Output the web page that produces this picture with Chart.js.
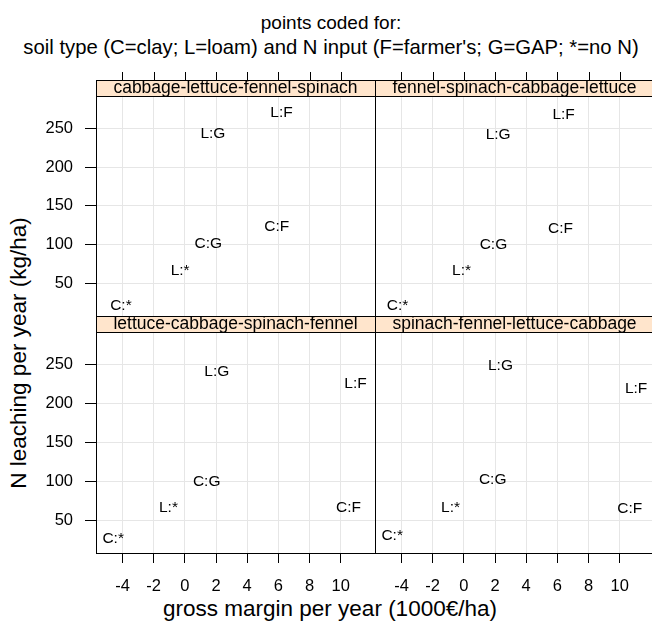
<!DOCTYPE html>
<html>
<head>
<meta charset="utf-8">
<script src="https://cdn.jsdelivr.net/npm/chart.js@4.4.0/dist/chart.umd.min.js"></script>
<style>
  body { margin: 0; background: #fff; }
  #wrap { position: relative; width: 652px; height: 628px; overflow: hidden;
          font-family: "Liberation Sans", Arial, sans-serif; color: #000; }
  #wrap canvas { position: absolute; left: 0; top: 0; }
  .txt { position: absolute; white-space: nowrap; line-height: 1; transform: translate(-50%, -50%); }
</style>
</head>
<body>
<div id="wrap">
  <div class="txt" style="left:331px; top:22px; font-size:19px;">points coded for:</div>
  <div class="txt" style="left:331px; top:47px; font-size:20.3px;">soil type (C=clay; L=loam) and N input (F=farmer's; G=GAP; *=no N)</div>
  <div class="txt" style="left:330px; top:609px; font-size:22.5px;">gross margin per year (1000€/ha)</div>
  <div class="txt" style="left:19px; top:353px; font-size:22.5px; transform: translate(-50%, -50%) rotate(-90deg);">N leaching per year (kg/ha)</div>
</div>
<script>
// labels drawn at each point
const pointLabels = ['L:F', 'L:G', 'C:F', 'C:G', 'L:*', 'C:*'];

// panel titles (crop rotations)
const rotations = ['cabbage-lettuce-fennel-spinach', 'fennel-spinach-cabbage-lettuce',
                   'lettuce-cabbage-spinach-fennel', 'spinach-fennel-lettuce-cabbage'];

// gross margin (1000 EUR/ha) and N leaching (kg/ha) per panel
const margin1 = [6.2, 1.8, 5.9, 1.5, -0.3, -4.1];
const leach1  = [271, 244, 124.5, 103, 67.5, 23.5];
const margin2 = [6.4, 2.2, 6.2, 1.9, -0.15, -4.25];
const leach2  = [269.5, 243.5, 122.5, 101.5, 67.5, 23.5];
const margin3 = [10.95, 2.05, 10.5, 1.4, -1.05, -4.6];
const leach3  = [227, 242.5, 67.5, 101, 67.5, 27.5];
const margin4 = [11.05, 2.35, 10.65, 1.85, -0.85, -4.6];
const leach4  = [221, 250, 67, 104, 67.5, 32];

const xTicks = [-4, -2, 0, 2, 4, 6, 8, 10];
const yTicks = [50, 100, 150, 200, 250];

const margins = [margin1, margin2, margin3, margin4];
const leaching = [leach1, leach2, leach3, leach4];

const xMin = -5.7, xMax = 12.2;
const yMin = 8, yMax = 291.5;

// panel geometry (lattice layout)
const colsX = [[96, 375], [375, 654]];
const rowsY = [{ top: 96, bottom: 316 }, { top: 332, bottom: 553 }];
const stripH = 16;
const FONT = '"Liberation Sans", Arial, sans-serif';

const deco = {
  id: 'panelDeco',
  afterDatasetsDraw(chart, args, opts) {
    const { ctx, chartArea: a, scales: { x, y } } = chart;
    ctx.save();
    // text "points"
    ctx.fillStyle = '#000';
    ctx.font = '15.5px ' + FONT;
    ctx.textAlign = 'center';
    ctx.textBaseline = 'alphabetic';
    chart.data.datasets[0].data.forEach((p, k) => {
      ctx.fillText(pointLabels[k], x.getPixelForValue(p.x), y.getPixelForValue(p.y) + 0.36 * 15.5);
    });
    // panel border
    ctx.strokeStyle = '#000';
    ctx.lineWidth = 1;
    ctx.strokeRect(a.left + 0.5, a.top + 0.5, a.right - a.left, a.bottom - a.top);
    // strip
    const sTop = a.top - stripH;
    ctx.fillStyle = '#ffe5cc';
    ctx.fillRect(a.left, sTop, a.right - a.left, stripH);
    ctx.save();
    ctx.beginPath();
    ctx.rect(a.left, sTop, a.right - a.left, stripH);
    ctx.clip();
    ctx.fillStyle = '#000';
    ctx.font = '17.5px ' + FONT;
    ctx.fillText(opts.title, (a.left + a.right) / 2, a.top - 3);
    ctx.restore();
    ctx.strokeRect(a.left + 0.5, sTop + 0.5, a.right - a.left, stripH);
    // ticks above the top strips
    if (opts.topTicks) {
      ctx.beginPath();
      x.ticks.forEach(t => {
        const px = Math.round(x.getPixelForValue(t.value)) + 0.5;
        ctx.moveTo(px, sTop);
        ctx.lineTo(px, sTop - 8);
      });
      ctx.stroke();
    }
    ctx.restore();
  }
};

const wrap = document.getElementById('wrap');

function panelChart(i) {
  const col = i % 2, row = Math.floor(i / 2);
  const L = colsX[col][0], R = colsX[col][1];
  const T = rowsY[row].top, B = rowsY[row].bottom;
  const showY = col === 0, showX = row === 1;
  const yW = showY ? 60 : 0;
  const xH = showX ? 50 : 0;
  const canvas = document.createElement('canvas');
  canvas.width = 660;
  canvas.height = 628;
  wrap.appendChild(canvas);
  return new Chart(canvas, {
    type: 'scatter',
    data: {
      datasets: [{
        data: margins[i].map((v, k) => ({ x: v, y: leaching[i][k] })),
        pointRadius: 0,
        pointHoverRadius: 0
      }]
    },
    options: {
      responsive: false,
      animation: false,
      devicePixelRatio: 1,
      events: [],
      layout: { padding: { left: L - yW, top: T, right: 660 - R, bottom: 628 - B - xH } },
      plugins: {
        legend: { display: false },
        tooltip: { enabled: false },
        panelDeco: { title: rotations[i], topTicks: row === 0 }
      },
      scales: {
        x: {
          type: 'linear', min: xMin, max: xMax,
          afterBuildTicks: s => { s.ticks = xTicks.map(v => ({ value: v })); },
          afterFit: s => { s.height = xH; },
          ticks: { display: showX, color: '#000', font: { family: FONT, size: 16.5 },
                   padding: 14, maxRotation: 0, autoSkip: false },
          grid: { color: '#e6e6e6', tickColor: '#000', drawTicks: showX, tickLength: 10 },
          border: { display: false }
        },
        y: {
          type: 'linear', min: yMin, max: yMax,
          afterBuildTicks: s => { s.ticks = yTicks.map(v => ({ value: v })); },
          afterFit: s => { s.width = yW; },
          ticks: { display: showY, color: '#000', font: { family: FONT, size: 16.5 },
                   padding: 12, autoSkip: false },
          grid: { color: '#e6e6e6', tickColor: '#000', drawTicks: showY, tickLength: 11 },
          border: { display: false }
        }
      }
    },
    plugins: [deco]
  });
}

[0, 1, 2, 3].forEach(panelChart);
</script>
</body>
</html>
